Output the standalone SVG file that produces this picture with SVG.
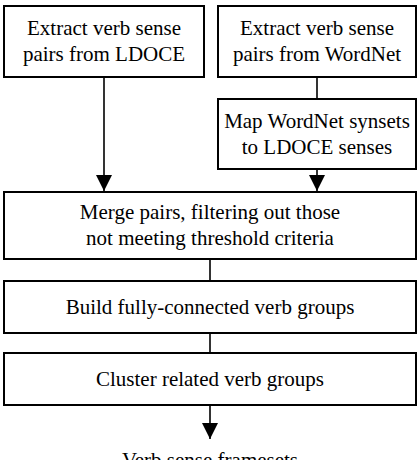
<svg xmlns="http://www.w3.org/2000/svg" width="420" height="460" viewBox="0 0 420 460">
<style>
.box{fill:#fff;stroke:#000;stroke-width:2}
.t{font-family:"Liberation Serif","Times New Roman",serif;font-size:21px;fill:#000;text-anchor:middle}
.c{stroke:#000;stroke-width:1.6;fill:none}
</style>
<defs>
<marker id="ah" markerWidth="16" markerHeight="18" refX="16" refY="8" orient="auto" markerUnits="userSpaceOnUse" viewBox="0 0 16 16">
<path d="M0,0 L16,8 L0,16 Z" fill="#000"/>
</marker>
</defs>
<rect width="420" height="460" fill="#fff"/>
<g id="connectors">
<line class="c" x1="104" y1="77" x2="104" y2="191" marker-end="url(#ah)"/>
<line class="c" x1="317" y1="77" x2="317" y2="99"/>
<line class="c" x1="317" y1="169" x2="317" y2="191" marker-end="url(#ah)"/>
<line class="c" x1="210" y1="259" x2="210" y2="281"/>
<line class="c" x1="210" y1="333" x2="210" y2="353"/>
<line class="c" x1="210" y1="405" x2="210" y2="439" marker-end="url(#ah)"/>
</g>
<g id="n1">
<rect class="box" x="4" y="6" width="200" height="71"/>
<text class="t" x="104" y="35">Extract verb sense</text>
<text class="t" x="104" y="61">pairs from LDOCE</text>
</g>
<g id="n2">
<rect class="box" x="218" y="6" width="198" height="71"/>
<text class="t" x="317" y="35">Extract verb sense</text>
<text class="t" x="317" y="61">pairs from WordNet</text>
</g>
<g id="n3">
<rect class="box" x="218" y="99" width="198" height="70"/>
<text class="t" x="317" y="128">Map WordNet synsets</text>
<text class="t" x="317" y="154">to LDOCE senses</text>
</g>
<g id="n4">
<rect class="box" x="4" y="192" width="412" height="67"/>
<text class="t" x="210" y="219">Merge pairs, filtering out those</text>
<text class="t" x="210" y="245">not meeting threshold criteria</text>
</g>
<g id="n5">
<rect class="box" x="4" y="281" width="412" height="52"/>
<text class="t" x="210" y="314">Build fully-connected verb groups</text>
</g>
<g id="n6">
<rect class="box" x="4" y="353" width="412" height="52"/>
<text class="t" x="210" y="386">Cluster related verb groups</text>
</g>
<g id="n7">
<text class="t" x="210" y="467">Verb sense framesets</text>
</g>
</svg>
